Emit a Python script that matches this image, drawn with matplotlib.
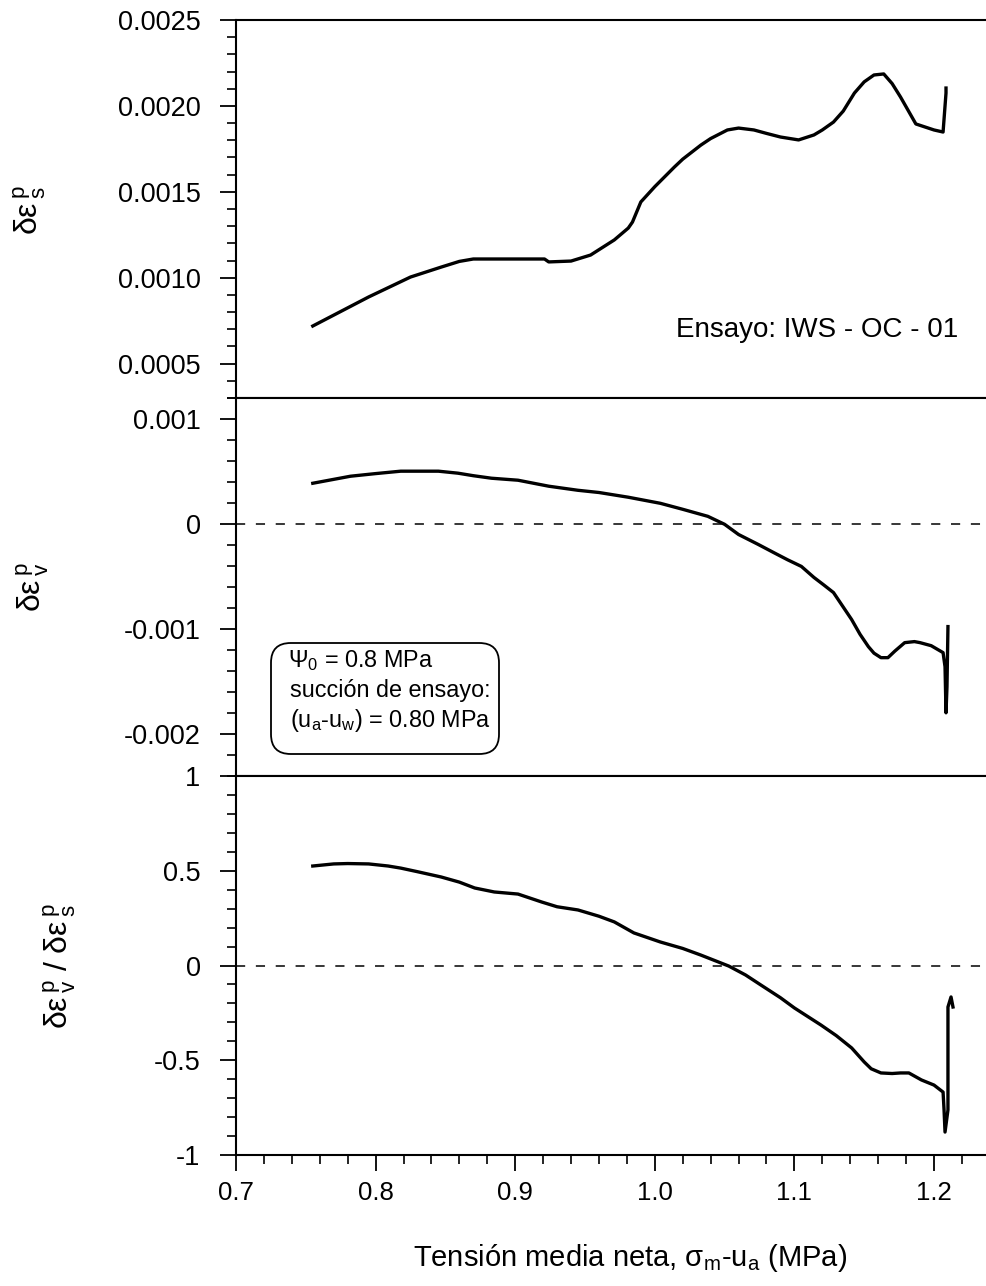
import matplotlib
matplotlib.use("Agg")
import matplotlib.pyplot as plt
from matplotlib.patches import FancyBboxPatch
from matplotlib.ticker import MultipleLocator, FixedLocator, FixedFormatter

plt.rcParams['font.family'] = ['Liberation Sans', 'DejaVu Sans']
plt.rcParams['axes.unicode_minus'] = False

# shear plastic strain increment (top)
x_s = [0.755, 0.795, 0.810, 0.825, 0.847, 0.860, 0.870, 0.921, 0.924, 0.940,
       0.954, 0.971, 0.981, 0.984, 0.990, 1.000, 1.014, 1.020, 1.033, 1.040,
       1.052, 1.060, 1.071, 1.080, 1.090, 1.103, 1.114, 1.120, 1.128, 1.135,
       1.143, 1.150, 1.157, 1.164, 1.170, 1.176, 1.187, 1.200, 1.2065, 1.2086, 1.2086]
y_s = [0.000719, 0.000888, 0.000946, 0.001004, 0.001062, 0.001095, 0.001109, 0.001109,
       0.001092, 0.001097, 0.001132, 0.001220, 0.001289, 0.001324, 0.001441, 0.001530,
       0.001644, 0.001690, 0.001772, 0.001810, 0.001860, 0.001871, 0.001860, 0.001840,
       0.001819, 0.001802, 0.001831, 0.001860, 0.001906, 0.001970, 0.002075, 0.002140,
       0.002180, 0.002186, 0.002130, 0.002052, 0.001895, 0.001860, 0.001848, 0.002075,
       0.002104]

# volumetric plastic strain increment (middle)
x_v = [0.755, 0.782, 0.800, 0.818, 0.845, 0.859, 0.870, 0.883, 0.902, 0.924,
       0.945, 0.960, 0.981, 1.004, 1.020, 1.038, 1.050, 1.060, 1.074, 1.085,
       1.095, 1.105, 1.114, 1.121, 1.128, 1.141, 1.147, 1.153, 1.157, 1.162,
       1.167, 1.172, 1.179, 1.186, 1.190, 1.198, 1.2065, 1.2079, 1.2086, 1.2093,
       1.2100]
y_v = [0.000388, 0.000455, 0.000480, 0.000503, 0.000503, 0.000484, 0.000460, 0.000436,
       0.000417, 0.000360, 0.000321, 0.000300, 0.000255, 0.000197, 0.000140, 0.000073,
       -0.000003, -0.000100, -0.000194, -0.000271, -0.000340, -0.000404, -0.000509,
       -0.000580, -0.000653, -0.000910, -0.001050, -0.001168, -0.001230, -0.001273,
       -0.001273, -0.001210, -0.001130, -0.001120, -0.001130, -0.001159, -0.001225,
       -0.001359, -0.001798, -0.001550, -0.000977]

# dilatancy ratio (bottom)
x_d = [0.755, 0.770, 0.780, 0.795, 0.809, 0.818, 0.830, 0.847, 0.860, 0.871,
       0.885, 0.902, 0.919, 0.930, 0.945, 0.960, 0.971, 0.985, 1.004, 1.020,
       1.033, 1.053, 1.065, 1.076, 1.090, 1.100, 1.119, 1.130, 1.141, 1.150,
       1.155, 1.162, 1.170, 1.176, 1.182, 1.191, 1.200, 1.2065, 1.2072, 1.2079,
       1.2100, 1.2100, 1.2122, 1.2136]
y_d = [0.525, 0.536, 0.538, 0.536, 0.525, 0.514, 0.495, 0.467, 0.440, 0.409,
       0.388, 0.377, 0.335, 0.310, 0.293, 0.260, 0.230, 0.172, 0.124, 0.090,
       0.055, -0.003, -0.050, -0.103, -0.170, -0.224, -0.314, -0.370, -0.435, -0.509,
       -0.545, -0.567, -0.570, -0.567, -0.567, -0.604, -0.631, -0.668, -0.762, -0.879,
       -0.762, -0.219, -0.166, -0.219]

x_ticks = [0.7, 0.8, 0.9, 1.0, 1.1, 1.2]
x_ticklabels = ['0.7', '0.8', '0.9', '1.0', '1.1', '1.2']
s_ticks = [0.0005, 0.0010, 0.0015, 0.0020, 0.0025]
s_ticklabels = ['0.0005', '0.0010', '0.0015', '0.0020', '0.0025']
v_ticks = [-0.002, -0.001, 0.0, 0.001]
v_ticklabels = ['-0.002', '-0.001', '0', '0.001']
d_ticks = [-1, -0.5, 0, 0.5, 1]
d_ticklabels = ['-1', '-0.5', '0', '0.5', '1']

W, H = 986, 1286
fig = plt.figure(figsize=(W / 100, H / 100), dpi=100)


def make_ax(top_px, bot_px):
    left = 236 / W
    width = 0.55 * 1396 / W
    ax = fig.add_axes([left, (H - bot_px) / H, width, (bot_px - top_px) / H])
    ax.set_xlim(0.7, 1.25)
    ax.xaxis.set_major_locator(FixedLocator(x_ticks))
    ax.xaxis.set_minor_locator(MultipleLocator(0.02))
    ax.spines['right'].set_visible(False)
    for sp in ['left', 'bottom', 'top']:
        ax.spines[sp].set_linewidth(1.5)
    ax.tick_params(which='major', direction='out', length=11.5, width=1.3,
                   labelsize=19.5, pad=14, top=False, right=False)
    ax.tick_params(which='minor', direction='out', length=6.5, width=1.2,
                   top=False, right=False)
    ax.tick_params(axis='x', labelsize=18.5, pad=7)
    return ax


ax1 = make_ax(20, 398)
ax2 = make_ax(398, 776)
ax3 = make_ax(776, 1155)

ax1.plot(x_s, y_s, color='black', lw=2.4)
ax1.set_ylim(0.0003, 0.0025)
ax1.yaxis.set_major_locator(FixedLocator(s_ticks))
ax1.yaxis.set_major_formatter(FixedFormatter(s_ticklabels))
ax1.yaxis.set_minor_locator(MultipleLocator(0.0001))
ax1.set_xticklabels([])
fig.text(958 / W, 1 - 330 / H, 'Ensayo: IWS - OC - 01', fontsize=20,
         ha='right', va='center')

ax2.plot(x_v, y_v, color='black', lw=2.4)
ax2.axhline(0, color='black', lw=1.1, dashes=(6, 7))
ax2.set_ylim(-0.0024, 0.0012)
ax2.yaxis.set_major_locator(FixedLocator(v_ticks))
ax2.yaxis.set_major_formatter(FixedFormatter(v_ticklabels))
ax2.yaxis.set_minor_locator(MultipleLocator(0.0002))
ax2.set_xticklabels([])

ax3.plot(x_d, y_d, color='black', lw=2.4)
ax3.axhline(0, color='black', lw=1.1, dashes=(6, 7))
ax3.set_ylim(-1, 1)
ax3.yaxis.set_major_locator(FixedLocator(d_ticks))
ax3.yaxis.set_major_formatter(FixedFormatter(d_ticklabels))
ax3.yaxis.set_minor_locator(MultipleLocator(0.1))
ax3.set_xticklabels(x_ticklabels)

# y labels
fig.text(30 / W, 1 - 210 / H, r'$\mathregular{δε^{\,p}_{\,s}}$', fontsize=23,
         rotation=90, ha='center', va='center')
fig.text(33 / W, 1 - 587 / H, r'$\mathregular{δε^{\,p}_{\,v}}$', fontsize=23,
         rotation=90, ha='center', va='center')
fig.text(60 / W, 1 - 966 / H,
         r'$\mathregular{δε^{\,p}_{\,v}}$ / $\mathregular{δε^{\,p}_{\,s}}$',
         fontsize=23, rotation=90, ha='center', va='center')

# x label
fig.text(630 / W, 1 - 1266 / H,
         r'Tensión media neta, $\mathregular{σ_m}$-$\mathregular{u_a}$ (MPa)',
         fontsize=21, ha='center', va='baseline')

# info box
box = FancyBboxPatch((271 / W, 1 - 754 / H), 228 / W, 111 / H,
                     boxstyle='round,pad=0,rounding_size=0.02',
                     transform=fig.transFigure, facecolor='white',
                     edgecolor='black', lw=1.3, mutation_aspect=W / H)
fig.patches.append(box)
fig.text(288 / W, 1 - 661 / H, r'$\mathregular{Ψ_0}$ = 0.8 MPa', fontsize=16.8,
         ha='left', va='center')
fig.text(290 / W, 1 - 691 / H, 'succión de ensayo:', fontsize=16.8,
         ha='left', va='center')
fig.text(290 / W, 1 - 720 / H,
         r'($\mathregular{u_a}$-$\mathregular{u_w}$) = 0.80 MPa', fontsize=16.8,
         ha='left', va='center')

fig.savefig('out.png', dpi=100)
